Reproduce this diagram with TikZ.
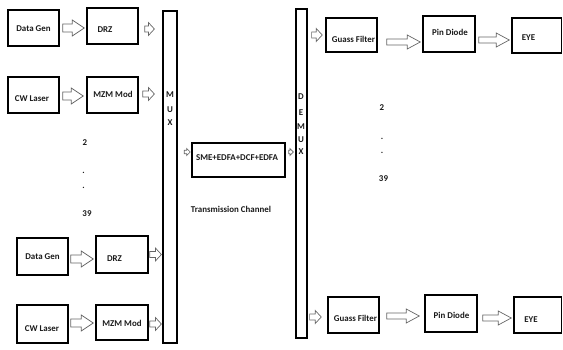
\documentclass[tikz,border=0pt]{standalone}
\usepackage{fontspec}
\setmainfont{Carlito}
\usetikzlibrary{calc}
\begin{document}
\begin{tikzpicture}[x=1pt,y=-1pt,
  box/.style 2 args={draw=black, line width=1.5pt, minimum width=#1pt, minimum height=#2pt, inner sep=0pt},
  bar/.style 2 args={draw=black, line width=1.2pt, minimum width=#1pt, minimum height=#2pt, inner sep=0pt},
  txt/.style={font=\fontsize{8.9}{10}\selectfont\bfseries, inner sep=0pt, text=black!90},
  barrow/.style n args={3}{draw=black!60, line width=0.7pt,
    to path={let \p1=(\tikztostart), \p2=(\tikztotarget) in
      (\x1,\y1+#1) -- (\x2-#3,\y1+#1) -- (\x2-#3,\y1+#2) -- (\x2,\y1)
      -- (\x2-#3,\y1-#2) -- (\x2-#3,\y1-#1) -- (\x1,\y1-#1) -- cycle}},
  bigarrow/.style={barrow={4pt}{8pt}{12pt}},
  smallarrow/.style={barrow={3pt}{6.5pt}{6pt}},
  tinyarrow/.style={barrow={1.8pt}{3.5pt}{3.5pt}},
  longarrow/.style={barrow={3pt}{7pt}{13pt}}
]
\useasboundingbox (0,0) rectangle (563,350);

% left transmitters
\node[box={51}{36}] (dg1) at (33.5,28) {};
\node[box={51}{36}] (drz1) at (112.5,26) {};
\node[box={51}{36}] (cw1) at (33.5,95) {};
\node[box={51}{36}] (mzm1) at (112.5,95) {};
\node[box={51}{37}] (dg2) at (42.5,256.5) {};
\node[box={52}{37}] (drz2) at (122,254.5) {};
\node[box={51}{38}] (cw2) at (42.5,324) {};
\node[box={52}{35}] (mzm2) at (122,322.5) {};

\node[txt] (t1) at (33.5,29) {Data Gen};
\node[txt] (t2) at (105,30) {DRZ};
\node[txt] (t3) at (32,99) {CW Laser};
\node[txt] (t4) at (113,94) {MZM Mod};
\node[txt] (t5) at (42.5,257) {Data Gen};
\node[txt] (t6) at (114.5,259) {DRZ};
\node[txt] (t7) at (42,329) {CW Laser};
\node[txt] (t8) at (122,323) {MZM Mod};

\node[txt] (n2a) at (85,143) {2};
\node[txt] (d1a) at (83.5,173) {.};
\node[txt] (d2a) at (83.5,188) {.};
\node[txt] (n39a) at (87,214) {39};

% MUX
\node[bar={14}{332}] (mux) at (170,177) {};
\node[txt] (m1) at (170,95) {M};
\node[txt] (m2) at (170,110) {U};
\node[txt] (m3) at (170,123) {X};

% channel
\node[box={93}{34}] (sme) at (238.5,160) {};
\node[txt] (smet) at (237,158) {SME+EDFA+DCF+EDFA};
\node[txt] (tc) at (231,209) {Transmission Channel};

% DEMUX
\node[bar={11}{329}] (demux) at (301.5,173.5) {};
\node[txt] (e1) at (301,97) {D};
\node[txt] (e2) at (301,113) {E};
\node[txt] (e3) at (301,127) {M};
\node[txt] (e4) at (301,140) {U};
\node[txt] (e5) at (301,152) {X};

% receivers
\node[box={51}{34}] (gf1) at (351.5,35) {};
\node[box={52}{36}] (pd1) at (449,34) {};
\node[box={49.5}{35}] (eye1) at (536.75,35.5) {};
\node[box={51}{36}] (gf2) at (353.5,315) {};
\node[box={52}{37}] (pd2) at (451,313.5) {};
\node[box={47.5}{36}] (eye2) at (537.75,315) {};

\node[txt] (r1) at (353.5,39) {Guass Filter};
\node[txt] (r2) at (450,32) {Pin Diode};
\node[txt] (r3) at (528.5,38) {EYE};
\node[txt] (r4) at (355.5,318) {Guass Filter};
\node[txt] (r5) at (451.5,315) {Pin Diode};
\node[txt] (r6) at (531,320) {EYE};

\node[txt] (n2b) at (382,108) {2};
\node[txt] (d1b) at (382,139) {.};
\node[txt] (d2b) at (382,153) {.};
\node[txt] (n39b) at (383.5,179) {39};

% connectors
\draw[bigarrow] ([xshift=3pt]dg1.east) to ([xshift=-2pt]drz1.west);
\draw[smallarrow] ([shift={(6,3)}]drz1.east) to ([xshift=-8pt]mux.west);
\draw[bigarrow] ([shift={(3,1)}]cw1.east) to ([xshift=-3pt]mzm1.west);
\draw[smallarrow] ([shift={(4,-1)}]mzm1.east) to ([xshift=-8pt]mux.west);
\draw[bigarrow] ([shift={(2,2.5)}]dg2.east) to ([xshift=-2pt]drz2.west);
\draw[smallarrow] ([shift={(1,0)}]drz2.east) to ([xshift=-1pt]mux.west);
\draw[bigarrow] ([shift={(2,-1)}]cw2.east) to ([xshift=-2pt]mzm2.west);
\draw[smallarrow] ([shift={(1,1.5)}]mzm2.east) to ([xshift=-1pt]mux.west);

\draw[tinyarrow] ([shift={(-7,-8)}]sme.west) to ([xshift=-1pt]sme.west);
\draw[tinyarrow] ([shift={(3,-8)}]sme.east) to ([xshift=-2pt]demux.west);

\draw[smallarrow] ($(gf1.west -| demux.east)+(4,0)$) to ([xshift=-3pt]gf1.west);
\draw[longarrow] ([shift={(9,7)}]gf1.east) to ([xshift=-2pt]pd1.west);
\draw[longarrow] ([shift={(3,6)}]pd1.east) to ([xshift=-2pt]eye1.west);
\draw[smallarrow] ($(gf2.west -| demux.east)+(2,2)$) to ([xshift=-6pt]gf2.west);
\draw[longarrow] ([shift={(7,1)}]gf2.east) to ([xshift=-5pt]pd2.west);
\draw[longarrow] ([shift={(5,4.5)}]pd2.east) to ([xshift=-2pt]eye2.west);
\end{tikzpicture}
\end{document}
